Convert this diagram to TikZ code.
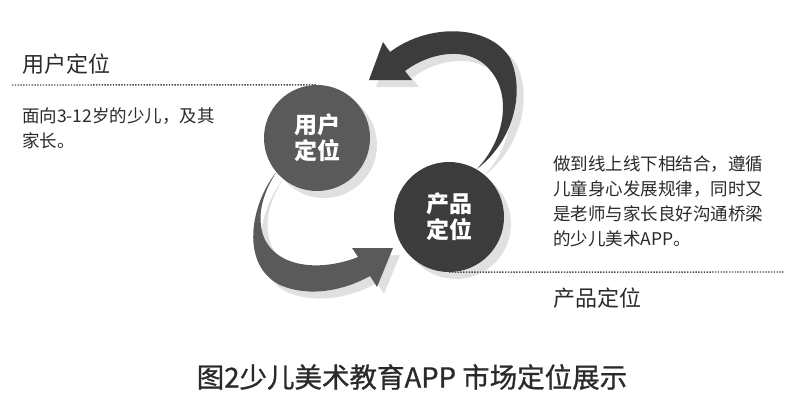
\documentclass[tikz,border=0pt]{standalone}
\usepackage{fontspec}
\setmainfont{Noto Sans CJK SC}
\usetikzlibrary{backgrounds}

\definecolor{userGray}{HTML}{5A5A5A}
\definecolor{prodGray}{HTML}{3C3C3C}
\definecolor{shadowGray}{HTML}{E0E0E0}
\definecolor{textGray}{HTML}{2A2A2A}

\tikzset{
  disc/.style = {circle, minimum size=#1, inner sep=0pt, text=white, align=center,
    font=\bfseries\fontsize{23}{26}\selectfont},
  body/.style = {anchor=north west, inner sep=0pt, align=left, text=textGray,
    font=\fontsize{17.5}{25}\selectfont},
  heading/.style = {anchor=west, inner sep=0pt, text=textGray,
    font=\fontsize{22}{26}\selectfont},
  dotline/.style = {line width=1.4pt, dash pattern=on 1.4pt off 1.4pt, black!70}
}

% the two curved arrows
\newcommand\arrowUp{(369,80) -- (383,42) -- (390,52)
  .. controls (430,22) and (490,25) .. (510,58)
  .. controls (525,90) and (515,140) .. (product.60)
  .. controls (505,140) and (512,95) .. (490,70)
  .. controls (470,45) and (430,52) .. (405,71)
  -- (412,80) -- cycle}
\newcommand\arrowDown{(393,248) -- (352,248) -- (358,257)
  .. controls (320,272) and (275,268) .. (263,235)
  .. controls (256,212) and (265,190) .. (user.220)
  .. controls (250,205) and (240,265) .. (280,285)
  .. controls (310,298) and (345,290) .. (370,276)
  -- (377,287) -- cycle}

\begin{document}
\begin{tikzpicture}[x=1pt, y=-1pt]
\useasboundingbox (0,0) rectangle (800,410);

\node[disc=106pt, fill=userGray] (user) at (317,138) {用户\\定位};
\node[disc=110pt, fill=prodGray] (product) at (449,217) {产品\\定位};

\begin{pgfonlayer}{background}
  \begin{scope}[transform canvas={shift={(7,7)}}]
    \fill[shadowGray] \arrowUp;
    \fill[shadowGray] \arrowDown;
    \fill[shadowGray] (user.center) circle (53);
    \fill[shadowGray] (product.center) circle (55);
  \end{scope}
  \fill[prodGray] \arrowUp;
  \fill[userGray] \arrowDown;
\end{pgfonlayer}

% dotted rules
\coordinate (leftEnd) at (12,85);
\coordinate (rightEnd) at (785,272);
\draw[dotline] (leftEnd) -- (user.north);
\draw[dotline] (product.south) -- (rightEnd);

\node[heading] (userHead) at (22,64) {用户定位};
\node[body] (userText) at (22,108) {面向3-12岁的少儿，及其\\家长。};
\node[body] (prodText) at (553,156) {做到线上线下相结合，遵循\\儿童身心发展规律，同时又\\是老师与家长良好沟通桥梁\\的少儿美术APP。};
\node[heading] (prodHead) at (553,298) {产品定位};

\node[text=textGray, font=\fontsize{27.5}{30}\selectfont\addfontfeature{FakeBold=0.8}] (caption) at (412,377) {图2少儿美术教育APP 市场定位展示};
\end{tikzpicture}
\end{document}
